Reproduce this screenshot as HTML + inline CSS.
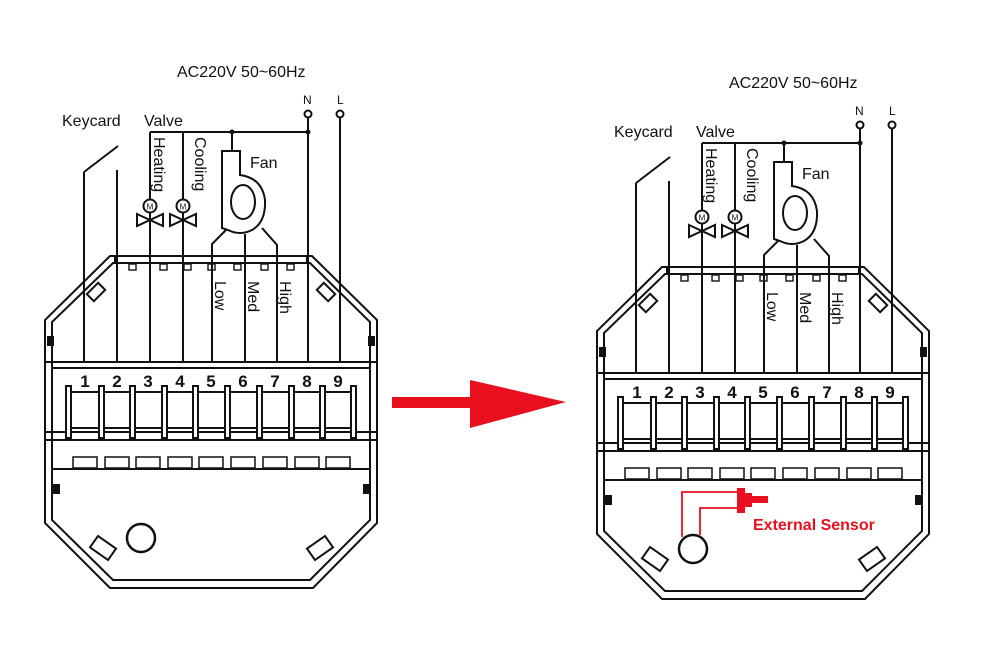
<!DOCTYPE html>
<html><head><style>body{margin:0;background:#fff}svg{display:block}</style></head><body>
<svg width="1000" height="656" viewBox="0 0 1000 656" xmlns="http://www.w3.org/2000/svg" font-family="Liberation Sans, sans-serif">
<defs>
<g id="d" fill="none" stroke="#111" stroke-width="2">
  <line x1="150" y1="132" x2="308" y2="132"/>
  <line x1="308" y1="118" x2="308" y2="362"/>
  <line x1="340" y1="118" x2="340" y2="362"/>
  <circle cx="308" cy="114" r="3.5"/><circle cx="340" cy="114" r="3.5"/>
  <circle cx="232" cy="132" r="1.5" fill="#111"/><circle cx="308" cy="132" r="1.5" fill="#111"/>
  <line x1="84" y1="172" x2="84" y2="362"/>
  <line x1="84" y1="172" x2="118" y2="146"/>
  <line x1="117" y1="170" x2="117" y2="362"/>
  <line x1="150" y1="132" x2="150" y2="362"/>
  <line x1="183" y1="132" x2="183" y2="362"/>
  <circle cx="150" cy="206" r="6.5" fill="#fff"/><circle cx="183" cy="206" r="6.5" fill="#fff"/>
  <text x="150" y="209.5" font-size="8" text-anchor="middle" fill="#111" stroke="none">M</text>
  <text x="183" y="209.5" font-size="8" text-anchor="middle" fill="#111" stroke="none">M</text>
  <path d="M137 214 L163 226 L163 214 L137 226 Z"/>
  <path d="M170 214 L196 226 L196 214 L170 226 Z"/>
  <line x1="232" y1="132" x2="232" y2="151"/>
  <path d="M222 228 L222 151 L240 151 L240 175 Q262 178 265 200 Q266 222 252 230 Q240 236 228 230 Z"/>
  <ellipse cx="243" cy="202" rx="12" ry="17"/>
  <path d="M226 230 L212 244 L212 362"/>
  <line x1="245" y1="234" x2="245" y2="362"/>
  <path d="M262 228 L277 245 L277 362"/>
  <path d="M110 256 L312 256 L377 320 L377 523 L313 588 L110 588 L45 523 L45 320 Z"/>
  <path d="M113 263 L310 263 L370 322 L370 520 L310 580 L113 580 L52 520 L52 322 Z"/>
  <line x1="115" y1="256" x2="115" y2="263"/><line x1="307" y1="256" x2="307" y2="263"/>
  <g stroke-width="1.4">
  <rect x="129" y="264" width="7" height="6"/><rect x="160" y="264" width="7" height="6"/><rect x="184" y="264" width="7" height="6"/>
  <rect x="208" y="264" width="7" height="6"/><rect x="234" y="264" width="7" height="6"/><rect x="261" y="264" width="7" height="6"/><rect x="287" y="264" width="7" height="6"/>
  </g>
  <rect x="88" y="287" width="16" height="10" transform="rotate(-45 96 292)"/>
  <rect x="318" y="287" width="16" height="10" transform="rotate(45 326 292)"/>
  <rect x="48" y="337" width="5" height="8" fill="#111"/><rect x="369" y="337" width="5" height="8" fill="#111"/>
  <line x1="45" y1="362" x2="377" y2="362"/>
  <line x1="52" y1="368" x2="370" y2="368"/>
  <rect x="68" y="392" width="287" height="36"/>
  <line x1="45" y1="432" x2="377" y2="432"/>
  <line x1="45" y1="440" x2="377" y2="440"/>
  <g fill="#fff">
  <rect x="66" y="386" width="5" height="52"/><rect x="99" y="386" width="5" height="52"/><rect x="130" y="386" width="5" height="52"/><rect x="162" y="386" width="5" height="52"/><rect x="193" y="386" width="5" height="52"/><rect x="225" y="386" width="5" height="52"/><rect x="257" y="386" width="5" height="52"/><rect x="289" y="386" width="5" height="52"/><rect x="320" y="386" width="5" height="52"/><rect x="351" y="386" width="5" height="52"/>
  </g>
  <g stroke-width="1.5">
  <rect x="73" y="457" width="24" height="11"/><rect x="105" y="457" width="24" height="11"/><rect x="136" y="457" width="24" height="11"/><rect x="168" y="457" width="24" height="11"/><rect x="199" y="457" width="24" height="11"/><rect x="231" y="457" width="24" height="11"/><rect x="263" y="457" width="24" height="11"/><rect x="295" y="457" width="24" height="11"/><rect x="326" y="457" width="24" height="11"/>
  </g>
  <line x1="52" y1="469" x2="370" y2="469"/>
  <rect x="53" y="485" width="6" height="8" fill="#111"/><rect x="364" y="485" width="6" height="8" fill="#111"/>
  <circle cx="141" cy="538" r="14" stroke-width="2.5"/>
  <rect x="92" y="541" width="22" height="14" transform="rotate(35 103 548)"/>
  <rect x="309" y="541" width="22" height="14" transform="rotate(-35 320 548)"/>
  <g fill="#111" stroke="none" font-size="17" font-weight="bold" text-anchor="middle">
  <text x="85" y="387">1</text><text x="117" y="387">2</text><text x="148" y="387">3</text><text x="180" y="387">4</text><text x="211" y="387">5</text><text x="243" y="387">6</text><text x="275" y="387">7</text><text x="307" y="387">8</text><text x="338" y="387">9</text>
  </g>
  <g fill="#111" stroke="none" font-size="16">
  <text x="177" y="77">AC220V 50~60Hz</text>
  <text x="62" y="126">Keycard</text>
  <text x="144" y="126">Valve</text>
  <text x="250" y="168">Fan</text>
  <text font-size="12" x="303" y="104">N</text><text font-size="12" x="337" y="104">L</text>
  <text transform="translate(154,137) rotate(90)">Heating</text>
  <text transform="translate(195,137) rotate(90)">Cooling</text>
  <text transform="translate(215,281) rotate(90)">Low</text>
  <text transform="translate(248,281) rotate(90)">Med</text>
  <text transform="translate(280,281) rotate(90)">High</text>
  </g>
</g>
</defs>
<use href="#d"/>
<use href="#d" transform="translate(552,11)"/>
<path d="M392 397 L470 397 L470 380 L566 402 L470 428 L470 408 L392 408 Z" fill="#e8101e"/>
<g fill="none" stroke="#e8101e" stroke-width="1.8">
<path d="M682 537 L682 492 L738 492"/>
<path d="M700 535 L700 508 L738 508"/>
</g>
<g fill="#e8101e">
<rect x="737" y="488" width="8" height="25"/><rect x="745" y="493" width="7" height="14"/><rect x="752" y="496" width="16" height="7"/>
<text x="753" y="530" font-size="16" font-weight="bold">External Sensor</text>
</g>
</svg>
</body></html>
